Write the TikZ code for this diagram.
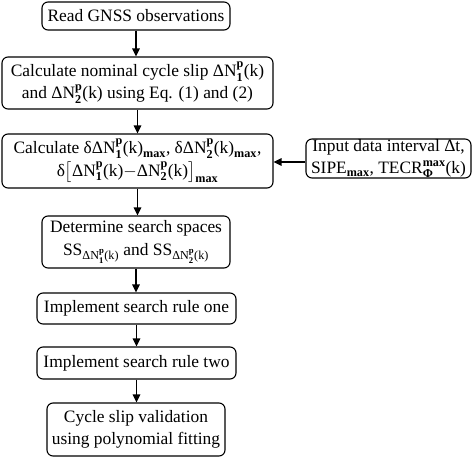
\documentclass[tikz,border=0pt]{standalone}
\usepackage{amsmath}
\usepackage{fontspec}
\setmainfont{Liberation Serif}
\usetikzlibrary{arrows.meta}
\newcommand{\bt}[1]{\text{\bfseries #1}}
\newcommand{\DN}[1]{\text{ΔN}^{\bt{p}}_{\bt{#1}}\text{(k)}}
\begin{document}
\begin{tikzpicture}[x=1pt,y=-1pt,
  box/.style={draw, rounded corners=6pt, line width=1.1pt, align=center, inner sep=0pt,
    font=\fontsize{17.4}{22.5}\selectfont},
  arr/.style={-{Triangle[length=8pt,width=7.5pt]}, line width=1.2pt}]
\useasboundingbox (0,0) rectangle (473,457);
\node[box, minimum width=188pt, minimum height=28pt] (b1) at (136,16) {Read GNSS observations};
\node[box, minimum width=271pt, minimum height=52pt] (b2) at (137.5,83)
  {Calculate nominal cycle slip $\DN{1}$\\and $\DN{2}$ using Eq. (1) and (2)};
\node[box, minimum width=271pt, minimum height=54pt] (b3) at (137.5,161)
  {Calculate $\text{δ}\DN{1}_{\bt{max}}$, $\text{δ}\DN{2}_{\bt{max}}$,\\
   $\text{δ}\bigl[\DN{1}{-}\DN{2}\bigr]_{\bt{max}}$};
\node[box, minimum width=165pt, minimum height=39pt] (b4) at (388.5,158.5)
  {Input data interval Δt,\\$\text{SIPE}_{\bt{max}}$, $\text{TECR}^{\bt{max}}_{\bt{Φ}}\text{(k)}$};
\node[box, minimum width=188pt, minimum height=52pt] (b5) at (136,242)
  {Determine search spaces\\$\text{SS}_{\DN{1}}$ and $\text{SS}_{\DN{2}}$};
\node[box, minimum width=199pt, minimum height=31pt] (b6) at (136.5,308.5) {Implement search rule one};
\node[box, minimum width=199pt, minimum height=32pt] (b7) at (136.5,363) {Implement search rule two};
\node[box, minimum width=178pt, minimum height=53pt] (b8) at (136,429.5)
  {Cycle slip validation\\using polynomial fitting};
\draw[arr] (b1.south) -- (b1.south |- b2.north);
\draw[arr] (b2.south) -- (b2.south |- b3.north);
\draw[arr] (b3.south) -- (b3.south |- b5.north);
\draw[arr] (b5.south) -- (b5.south |- b6.north);
\draw[arr] (b6.south) -- (b6.south |- b7.north);
\draw[arr] (b7.south) -- (b7.south |- b8.north);
\draw[arr] ([yshift=-3.5pt]b4.west) -- ([yshift=-3.5pt]b4.west -| b3.east);
\end{tikzpicture}
\end{document}
